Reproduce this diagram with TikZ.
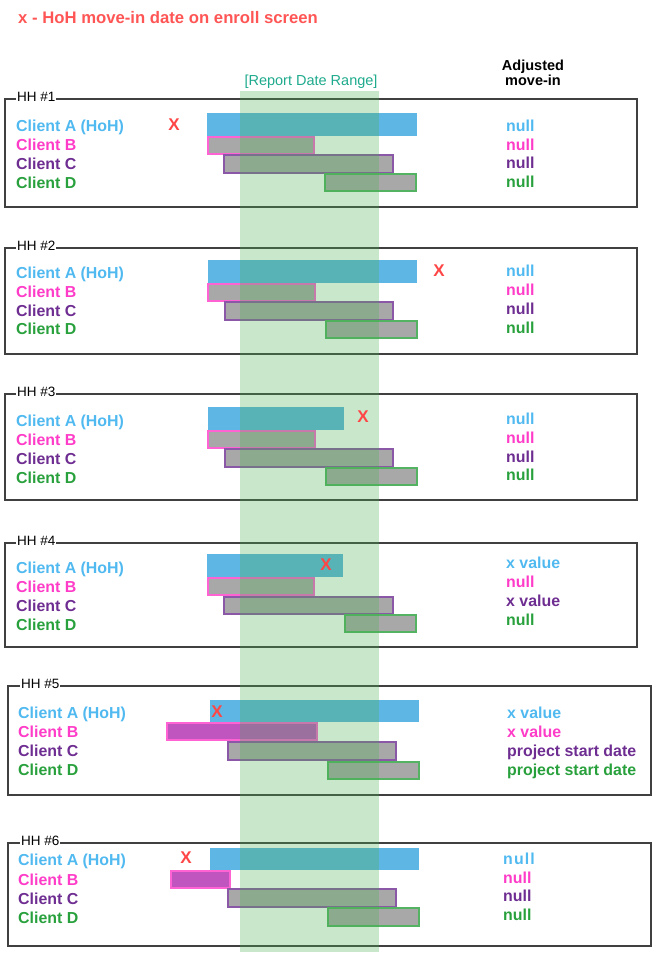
\documentclass[tikz,border=0pt]{standalone}
\usepackage{fontspec}
\setmainfont{Liberation Sans}
\definecolor{cblue}{RGB}{80,185,240}
\definecolor{cpink}{RGB}{255,60,200}
\definecolor{cpurple}{RGB}{110,45,145}
\definecolor{cgreen}{RGB}{40,160,60}
\definecolor{xred}{RGB}{255,70,70}
\definecolor{hdred}{RGB}{255,85,85}
\definecolor{teal}{RGB}{30,170,140}
\definecolor{barblue}{RGB}{93,182,227}
\definecolor{bargray}{RGB}{168,168,168}
\definecolor{barmag}{RGB}{192,85,192}
\definecolor{boxgray}{RGB}{64,64,64}
\definecolor{band}{RGB}{76,175,80}
\begin{document}
\begin{tikzpicture}[x=1pt,y=-1pt,
  txt/.style={font=\bfseries\fontsize{15.9}{18}\selectfont, anchor=base west, inner sep=0pt},
  cA/.style={txt,text=cblue}, cB/.style={txt,text=cpink},
  cC/.style={txt,text=cpurple}, cD/.style={txt,text=cgreen},
  hhbox/.style={draw=boxgray, line width=1.6pt},
  hhlbl/.style={font=\fontsize{13.5}{15}\selectfont, fill=white, inner sep=1pt, anchor=west},
  barA/.style={fill=barblue},
  barB/.style={fill=bargray, draw=cpink!80, line width=1.4pt},
  barM/.style={fill=barmag, draw=cpink!80, line width=1.4pt},
  barC/.style={fill=bargray, draw=cpurple!80, line width=1.4pt},
  barD/.style={fill=bargray, draw=cgreen!80, line width=1.4pt},
  xm/.style={text=xred, font=\bfseries\fontsize{17}{20}\selectfont, inner sep=0pt}]
\useasboundingbox (0,0) rectangle (670,964);

\node[anchor=base west, inner sep=0pt, text=hdred, font=\bfseries\fontsize{16.7}{19}\selectfont] (title) at (18,23) {x - HoH move-in date on enroll screen};
\node[align=center, inner sep=0pt, font=\bfseries\fontsize{14.5}{15}\selectfont] (adj) at (533,73) {Adjusted\\move-in};
\node[inner sep=0pt, text=teal, font=\fontsize{14.5}{16}\selectfont] (rdr) at (311,82) {[Report Date Range]};

% ---------- HH #1
\draw[hhbox] (5,99) rectangle (637,207);
\node[hhlbl] (h1) at (16,97) {HH \#1};
\fill[barA] (207,113) rectangle (417,136);
\draw[barB] (208,137) rectangle (314,154);
\draw[barC] (224,155) rectangle (393,173);
\draw[barD] (325,174) rectangle (416,191);
\node[cA] (a1) at (16,131) {Client A (HoH)};
\node[cB] (b1) at (16,150) {Client B};
\node[cC] (c1) at (16,169) {Client C};
\node[cD] (d1) at (16,188) {Client D};
\node[cA] (va1) at (506,131) {null};
\node[cB] (vb1) at (506,150) {null};
\node[cC] (vc1) at (506,168) {null};
\node[cD] (vd1) at (506,187) {null};

% ---------- HH #2
\draw[hhbox] (5,248) rectangle (637,354);
\node[hhlbl] (h2) at (16,246) {HH \#2};
\fill[barA] (208,260) rectangle (417,283);
\draw[barB] (208,284) rectangle (315,301);
\draw[barC] (225,302) rectangle (393,320);
\draw[barD] (326,321) rectangle (417,338);
\node[cA] (a2) at (16,278) {Client A (HoH)};
\node[cB] (b2) at (16,297) {Client B};
\node[cC] (c2) at (16,316) {Client C};
\node[cD] (d2) at (16,334) {Client D};
\node[cA] (va2) at (506,276) {null};
\node[cB] (vb2) at (506,295) {null};
\node[cC] (vc2) at (506,314) {null};
\node[cD] (vd2) at (506,333) {null};

% ---------- HH #3
\draw[hhbox] (5,394) rectangle (637,500);
\node[hhlbl] (h3) at (16,392) {HH \#3};
\fill[barA] (208,407) rectangle (344,430);
\draw[barB] (208,431) rectangle (315,448);
\draw[barC] (225,449) rectangle (393,467);
\draw[barD] (326,468) rectangle (417,485);
\node[cA] (a3) at (16,426) {Client A (HoH)};
\node[cB] (b3) at (16,445) {Client B};
\node[cC] (c3) at (16,464) {Client C};
\node[cD] (d3) at (16,483) {Client D};
\node[cA] (va3) at (506,424) {null};
\node[cB] (vb3) at (506,443) {null};
\node[cC] (vc3) at (506,462) {null};
\node[cD] (vd3) at (506,480) {null};

% ---------- HH #4
\draw[hhbox] (5,543) rectangle (637,647);
\node[hhlbl] (h4) at (16,541) {HH \#4};
\fill[barA] (207,554) rectangle (343,577);
\draw[barB] (208,578) rectangle (314,595);
\draw[barC] (224,597) rectangle (393,614);
\draw[barD] (345,615) rectangle (416,632);
\node[cA] (a4) at (16,573) {Client A (HoH)};
\node[cB] (b4) at (16,592) {Client B};
\node[cC] (c4) at (16,611) {Client C};
\node[cD] (d4) at (16,630) {Client D};
\node[cA] (va4) at (506,568) {x value};
\node[cB] (vb4) at (506,587) {null};
\node[cC] (vc4) at (506,606) {x value};
\node[cD] (vd4) at (506,625) {null};

% ---------- HH #5
\draw[hhbox] (8,686) rectangle (651,795);
\node[hhlbl] (h5) at (20,684) {HH \#5};
\fill[barA] (210,700) rectangle (419,722);
\draw[barM] (167,723) rectangle (317,740);
\draw[barC] (228,742) rectangle (396,760);
\draw[barD] (328,762) rectangle (419,779);
\node[cA] (a5) at (18,718) {Client A (HoH)};
\node[cB] (b5) at (18,737) {Client B};
\node[cC] (c5) at (18,756) {Client C};
\node[cD] (d5) at (18,775) {Client D};
\node[cA] (va5) at (507,718) {x value};
\node[cB] (vb5) at (507,737) {x value};
\node[cC] (vc5) at (507,756) {project start date};
\node[cD] (vd5) at (507,775) {project start date};

% ---------- HH #6
\draw[hhbox] (8,843) rectangle (651,946);
\node[hhlbl] (h6) at (20,841) {HH \#6};
\fill[barA] (210,848) rectangle (419,870);
\draw[barM] (171,871) rectangle (230,888);
\draw[barC] (228,889) rectangle (396,907);
\draw[barD] (328,908) rectangle (419,926);
\node[cA] (a6) at (18,865) {Client A (HoH)};
\node[cB] (b6) at (18,885) {Client B};
\node[cC] (c6) at (18,904) {Client C};
\node[cD] (d6) at (18,923) {Client D};
\node[cA] (va6) at (503,864) {\addfontfeature{LetterSpace=7}null};
\node[cB] (vb6) at (503,883) {null};
\node[cC] (vc6) at (503,901) {null};
\node[cD] (vd6) at (503,920) {null};

% ---------- report date band
\fill[band, opacity=0.3] (240,91) rectangle (379,952);

% ---------- move-in marks
\node[xm] (x1) at (174,125) {X};
\node[xm] (x2) at (439,271) {X};
\node[xm] (x3) at (363,417) {X};
\node[xm] (x4) at (326,565) {X};
\node[xm] (x5) at (217,712) {X};
\node[xm] (x6) at (186,858) {X};
\end{tikzpicture}
\end{document}
